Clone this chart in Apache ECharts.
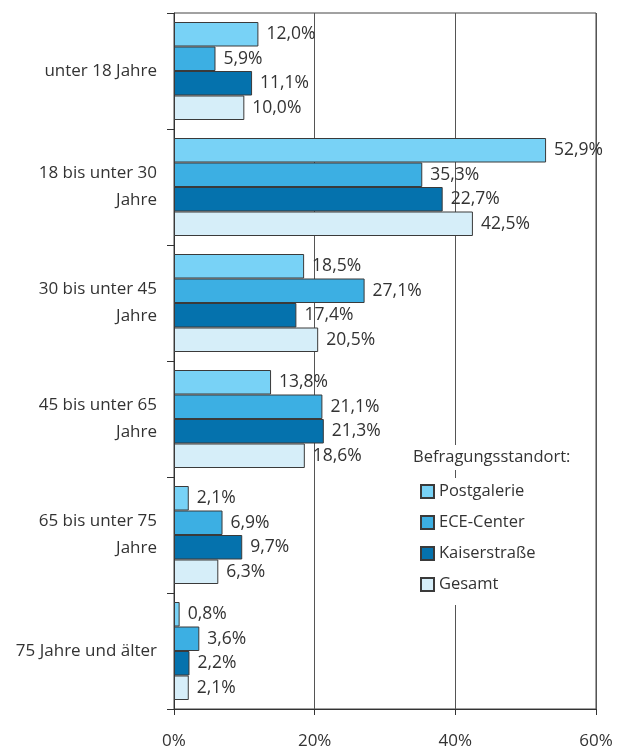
<!DOCTYPE html>
<html>
<head>
<meta charset="utf-8">
<script src="https://cdn.jsdelivr.net/npm/echarts@6/dist/echarts.min.js"></script>
<style>
  html, body { margin: 0; padding: 0; background: #fff; }
  #chart { width: 625px; height: 746px; }
</style>
</head>
<body>
<div id="chart"></div>
<script>
const ageGroups = ['unter 18 Jahre', '18 bis unter 30\nJahre', '30 bis unter 45\nJahre', '45 bis unter 65\nJahre', '65 bis unter 75\nJahre', '75 Jahre und älter'];
const postgalerie = [12.0, 52.9, 18.5, 13.8, 2.1, 0.8];
const eceCenter = [5.9, 35.3, 27.1, 21.1, 6.9, 3.6];
// drawn bar lengths; the printed label for 18-30 differs from the bar in the source
const kaiserstrasse = [11.1, 38.2, 17.4, 21.3, 9.7, 2.2];
const kaiserstrasseLabels = [11.1, 22.7, 17.4, 21.3, 9.7, 2.2];
const gesamt = [10.0, 42.5, 20.5, 18.6, 6.3, 2.1];
const xTicks = [0, 20, 40, 60];

const font = 'Open Sans';
const textColor = '#333';

const fmt = v => v.toFixed(1).replace('.', ',') + '%';

function makeSeries(name, values, color, labels) {
  return {
    name: name,
    type: 'bar',
    data: values,
    barWidth: 24.5,
    barGap: '0%',
    itemStyle: { color: color, borderColor: '#3a3a3a', borderWidth: 1 },
    label: {
      show: true,
      position: 'right',
      distance: 8,
      color: textColor,
      fontFamily: font,
      fontSize: 17.5,
      formatter: p => fmt((labels || values)[p.dataIndex])
    }
  };
}

const chart = echarts.init(document.getElementById('chart'));
chart.setOption({
  animation: false,
  textStyle: { fontFamily: font },
  grid: {
    left: 174, top: 13, right: 29, bottom: 37,
    outerBoundsMode: 'none',
    show: true, borderColor: '#444', borderWidth: 1
  },
  title: {
    text: 'Befragungsstandort:',
    left: 405, top: 445,
    padding: [4, 8, 4, 8],
    backgroundColor: '#fff',
    textStyle: { fontFamily: font, fontSize: 16.5, fontWeight: 'normal', color: textColor }
  },
  legend: {
    orient: 'vertical',
    left: 405, top: 478,
    padding: [5, 40, 12, 15],
    backgroundColor: '#fff',
    icon: 'rect',
    itemWidth: 13, itemHeight: 13,
    itemGap: 14,
    textStyle: { fontFamily: font, fontSize: 16.5, lineHeight: 14, color: textColor },
    data: ['Postgalerie', 'ECE-Center', 'Kaiserstraße', 'Gesamt']
  },
  xAxis: {
    type: 'value',
    min: 0, max: 60, interval: 20,
    axisLine: { show: true, lineStyle: { color: '#333' } },
    axisTick: { show: true, length: 6, lineStyle: { color: '#333' } },
    axisLabel: {
      margin: 24, fontSize: 17, color: textColor, fontFamily: font,
      formatter: v => xTicks.includes(v) ? v + '%' : ''
    },
    splitLine: { show: true, lineStyle: { color: '#555', width: 1 } }
  },
  yAxis: {
    type: 'category',
    inverse: true,
    data: ageGroups,
    axisLine: { show: true, lineStyle: { color: '#333' } },
    axisTick: { show: true, length: 7, lineStyle: { color: '#333' } },
    axisLabel: {
      margin: 17, fontSize: 17, lineHeight: 27, color: textColor, fontFamily: font, align: 'right'
    }
  },
  series: [
    makeSeries('Postgalerie', postgalerie, '#78d2f6'),
    makeSeries('ECE-Center', eceCenter, '#3cafe3'),
    makeSeries('Kaiserstraße', kaiserstrasse, '#0572ad', kaiserstrasseLabels),
    makeSeries('Gesamt', gesamt, '#d6eef9')
  ]
});
</script>
</body>
</html>
